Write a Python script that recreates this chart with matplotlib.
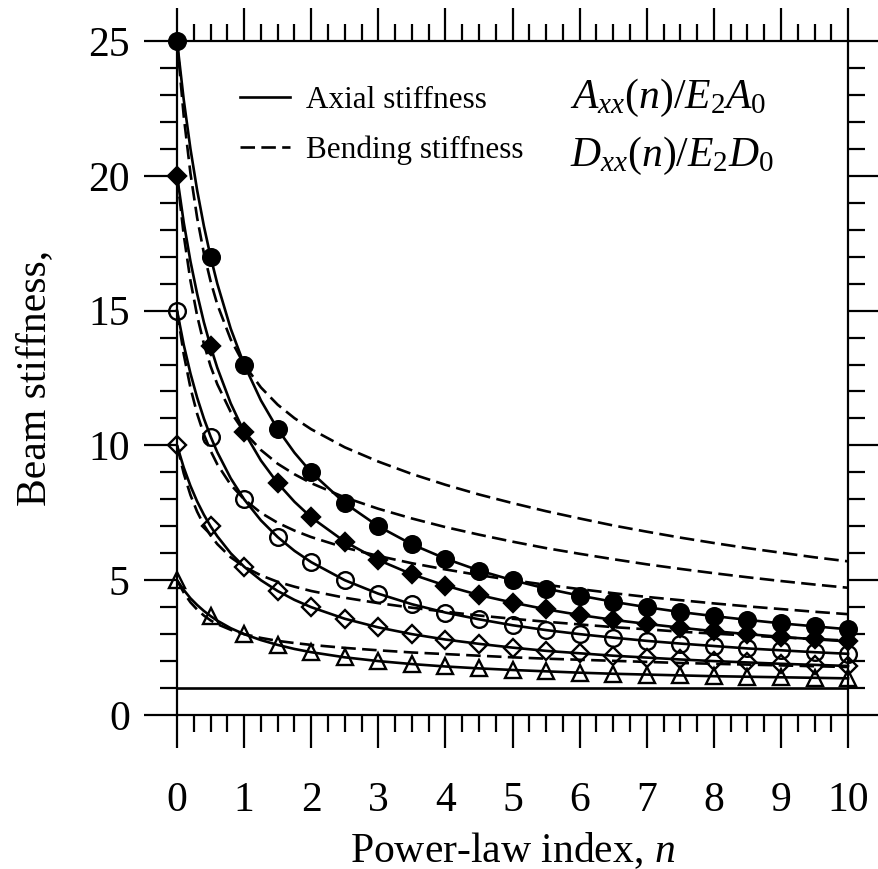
import matplotlib
matplotlib.use('Agg')
import matplotlib.pyplot as plt
from matplotlib.lines import Line2D
from matplotlib.ticker import MultipleLocator

plt.rcParams['font.family'] = ['Liberation Serif', 'DejaVu Serif']
plt.rcParams['mathtext.fontset'] = 'custom'
plt.rcParams['mathtext.rm'] = 'Liberation Serif'
plt.rcParams['mathtext.it'] = 'Liberation Serif:italic'

# power-law index n (curve points) and marker positions
n = [0, 0.1, 0.2, 0.3, 0.4, 0.5, 0.6, 0.8, 1, 1.25, 1.5, 1.75, 2, 2.5, 3, 3.5,
     4, 4.5, 5, 5.5, 6, 6.5, 7, 7.5, 8, 8.5, 9, 9.5, 10]
n_marks = [0, 5, 8, 10, 12] + list(range(13, 29))   # indices at n = 0, 0.5, 1, ...

# axial stiffness A_xx(n)/E2A0, for E1/E2 = 25, 20, 15, 10, 5
axial_25 = [25, 22.82, 21.00, 19.46, 18.14, 17.00, 16.00, 14.33, 13.00, 11.67, 10.60, 9.73,
            9.00, 7.86, 7.00, 6.33, 5.80, 5.36, 5.00, 4.69, 4.43, 4.20, 4.00, 3.82, 3.67,
            3.53, 3.40, 3.29, 3.18]
axial_20 = [20, 18.27, 16.83, 15.62, 14.57, 13.67, 12.88, 11.56, 10.50, 9.44, 8.60, 7.91,
            7.33, 6.43, 5.75, 5.22, 4.80, 4.45, 4.17, 3.92, 3.71, 3.53, 3.38, 3.24, 3.11,
            3.00, 2.90, 2.81, 2.73]
axial_15 = [15, 13.73, 12.67, 11.77, 11.00, 10.33, 9.75, 8.78, 8.00, 7.22, 6.60, 6.09,
            5.67, 5.00, 4.50, 4.11, 3.80, 3.55, 3.33, 3.15, 3.00, 2.87, 2.75, 2.65, 2.56,
            2.47, 2.40, 2.33, 2.27]
axial_10 = [10, 9.18, 8.50, 7.92, 7.43, 7.00, 6.63, 6.00, 5.50, 5.00, 4.60, 4.27,
            4.00, 3.57, 3.25, 3.00, 2.80, 2.64, 2.50, 2.38, 2.29, 2.20, 2.13, 2.06, 2.00,
            1.95, 1.90, 1.86, 1.82]
axial_5 = [5, 4.64, 4.33, 4.08, 3.86, 3.67, 3.50, 3.22, 3.00, 2.78, 2.60, 2.45,
           2.33, 2.14, 2.00, 1.89, 1.80, 1.73, 1.67, 1.62, 1.57, 1.53, 1.50, 1.47, 1.44,
           1.42, 1.40, 1.38, 1.36]

# bending stiffness D_xx(n)/E2D0
bend_25 = [25, 22.21, 20.09, 18.44, 17.13, 16.09, 15.23, 13.93, 13.00, 12.15, 11.51, 11.01,
           10.60, 9.93, 9.40, 8.94, 8.54, 8.18, 7.86, 7.56, 7.29, 7.03, 6.80, 6.58, 6.38,
           6.19, 6.02, 5.85, 5.70]
bend_20 = [20, 17.80, 16.11, 14.81, 13.77, 12.94, 12.27, 11.24, 10.50, 9.83, 9.32, 8.93,
           8.60, 8.07, 7.65, 7.29, 6.97, 6.69, 6.43, 6.19, 5.98, 5.78, 5.59, 5.42, 5.26,
           5.11, 4.97, 4.84, 4.72]
bend_15 = [15, 13.38, 12.14, 11.17, 10.41, 9.80, 9.30, 8.54, 8.00, 7.50, 7.13, 6.84,
           6.60, 6.21, 5.90, 5.63, 5.40, 5.19, 5.00, 4.83, 4.67, 4.52, 4.38, 4.26, 4.14,
           4.03, 3.93, 3.83, 3.74]
bend_10 = [10, 8.96, 8.16, 7.54, 7.05, 6.66, 6.34, 5.85, 5.50, 5.18, 4.94, 4.76,
           4.60, 4.35, 4.15, 3.98, 3.83, 3.69, 3.57, 3.46, 3.36, 3.26, 3.18, 3.09, 3.02,
           2.95, 2.88, 2.82, 2.76]
bend_5 = [5, 4.54, 4.18, 3.91, 3.69, 3.51, 3.37, 3.16, 3.00, 2.86, 2.75, 2.67,
          2.60, 2.49, 2.40, 2.32, 2.26, 2.20, 2.14, 2.09, 2.05, 2.01, 1.97, 1.93, 1.90,
          1.87, 1.84, 1.81, 1.78]

# homogeneous reference (E1/E2 = 1)
n_ref = [0, 10]
ref_1 = [1, 1]

fig = plt.figure(figsize=(8.79, 8.69), dpi=100)
ax = fig.add_axes([0.2014, 0.1772, 0.7634, 0.7756])

dash = (0, (5.5, 2.4))
for b in [bend_25, bend_20, bend_15, bend_10, bend_5]:
    ax.plot(n, b, color='black', lw=1.9, linestyle=dash, zorder=2)

ax.plot(n_ref, ref_1, color='black', lw=1.9, zorder=2)

styles = [(axial_25, 'o', 'black', 12), (axial_20, 'D', 'black', 9),
          (axial_15, 'o', 'none', 12), (axial_10, 'D', 'none', 9.5),
          (axial_5, '^', 'none', 12)]
for a, m, fc, ms in styles:
    ax.plot(n, a, color='black', lw=1.9, marker=m, markevery=n_marks, ms=ms,
            mfc=fc, mec='black', mew=1.7, clip_on=False, zorder=3)

ax.set_xlim(0, 10)
ax.set_ylim(0, 25)
ax.xaxis.set_major_locator(MultipleLocator(1))
ax.xaxis.set_minor_locator(MultipleLocator(0.25))
ax.yaxis.set_major_locator(MultipleLocator(5))
ax.yaxis.set_minor_locator(MultipleLocator(1))
ax.tick_params(which='both', direction='out', top=True, right=True, width=1.6)
ax.tick_params(which='major', length=24, labelsize=30)
ax.tick_params(which='minor', length=12.5)
ax.tick_params(axis='x', which='major', pad=24)
ax.tick_params(axis='y', which='major', pad=10)
for s in ax.spines.values():
    s.set_linewidth(1.6)

ax.set_xlabel('Power-law index, $n$', fontsize=30, labelpad=7)
fig.text(35 / 879, 1 - 378 / 869, 'Beam stiffness,', fontsize=30, rotation=90,
         ha='center', va='center')

handles = [Line2D([], [], color='black', lw=1.9),
           Line2D([], [], color='black', lw=1.9, linestyle=dash)]
ax.legend(handles, ['Axial stiffness', 'Bending stiffness'], loc='upper left',
          bbox_to_anchor=(0.094, 0.933), frameon=False, fontsize=22.5,
          handlelength=1.6, handletextpad=0.5, labelspacing=0.65,
          borderpad=0, borderaxespad=0)

ax.text(0.585, 0.915, r'$A_{xx}(n)/E_2A_0$', transform=ax.transAxes,
        fontsize=30, ha='left', va='center')
ax.text(0.585, 0.83, r'$D_{xx}(n)/E_2D_0$', transform=ax.transAxes,
        fontsize=30, ha='left', va='center')

fig.savefig('out.png', dpi=100, facecolor='white')
